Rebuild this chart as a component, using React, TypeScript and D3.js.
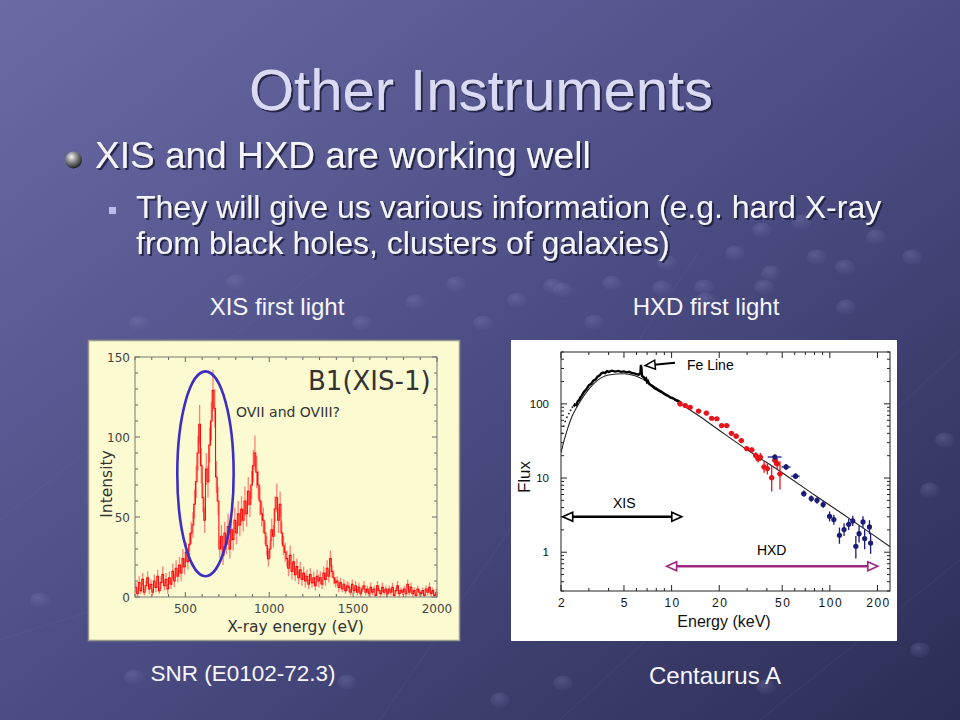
import { useEffect, useRef } from "react";
import * as d3 from "d3";

// ---- left panel: XIS first light (SNR E0102-72.3), counts per 10 eV bin from 200 eV
const xisCounts = [
  6, 2, 9, 4, 11, 3, 7, 12, 5, 8,
  3, 10, 6, 13, 4, 9, 14, 7, 11, 5,
  12, 8, 16, 10, 18, 13, 20, 15, 24, 19,
  28, 22, 33, 40, 45, 58, 72, 90, 108, 82,
  62, 48, 80, 72, 95, 110, 129, 118, 75, 60,
  30, 38, 26, 40, 33, 44, 30, 42, 36, 48,
  40, 52, 45, 55, 48, 60, 52, 66, 58, 70,
  82, 90, 78, 70, 60, 52, 48, 40, 32, 24,
  30, 42, 38, 55, 62, 48, 58, 40, 32, 28,
  24, 18, 26, 16, 22, 14, 19, 12, 17, 11,
  15, 10, 13, 8, 14, 9, 12, 7, 13, 10,
  12, 8, 15, 11, 18, 13, 24, 16, 12, 9,
  10, 6, 9, 5, 8, 4, 7, 6, 3, 8,
  4, 7, 3, 6, 2, 5, 7, 3, 5, 2,
  6, 3, 5, 1, 7, 4, 2, 6, 3, 5,
  2, 5, 3, 6, 1, 4, 7, 2, 4, 3,
  5, 2, 8, 3, 6, 2, 4, 1, 5, 3,
  2, 4, 1, 5, 3, 6, 2, 4, 1, 3,
];
// 1-sigma error per bin
const xisErrors = [
  3, 2, 4, 2, 4, 2, 3, 4, 3, 3,
  2, 4, 3, 4, 2, 4, 5, 3, 4, 3,
  4, 3, 5, 4, 5, 4, 5, 5, 6, 5,
  6, 5, 7, 7, 8, 9, 10, 11, 12, 11,
  9, 8, 10, 10, 11, 12, 13, 12, 10, 9,
  6, 7, 6, 7, 6, 8, 6, 7, 7, 8,
  7, 8, 7, 8, 7, 9, 8, 9, 8, 9,
  10, 11, 10, 9, 9, 8, 8, 7, 6, 5,
  6, 7, 7, 8, 9, 8, 8, 7, 6, 6,
  5, 5, 6, 5, 5, 4, 5, 4, 5, 4,
  4, 4, 4, 3, 4, 3, 4, 3, 4, 4,
  4, 3, 4, 4, 5, 4, 5, 4, 4, 3,
  3, 3, 3, 2, 3, 2, 3, 3, 2, 3,
  2, 3, 2, 3, 2, 2, 3, 2, 2, 2,
  3, 2, 2, 1, 3, 2, 2, 3, 2, 2,
  2, 2, 2, 3, 1, 2, 3, 2, 2, 2,
  2, 2, 3, 2, 3, 2, 2, 1, 2, 2,
  2, 2, 1, 2, 2, 3, 2, 2, 1, 2,
];
const xisEnergy = d3.range(200, 2000, 10);
const leftXTicks = [500, 1000, 1500, 2000];
const leftYTicks = [0, 50, 100, 150];
// OVII / OVIII region marked by the ellipse (eV, counts)
const oxyCenter = [620, 77];
const oxyRadius = [168, 64];

// ---- right panel: HXD first light (Centaurus A)
const xisSpecE = [2.4, 2.45, 2.5, 2.55, 2.6, 2.65, 2.7, 2.8, 2.9, 3.0, 3.1, 3.2, 3.3, 3.4, 3.5, 3.6, 3.7, 3.8, 3.9, 4.0,
  4.2, 4.4, 4.6, 4.8, 5.0, 5.2, 5.4, 5.6, 5.8, 6.0, 6.2, 6.3, 6.35, 6.4, 6.45, 6.5, 6.6, 6.7, 6.8, 6.9, 7.0,
  7.1, 7.2, 7.4, 7.6, 7.8, 8.0, 8.3, 8.6, 8.9, 9.2, 9.5, 9.8, 10.1, 10.4, 10.7, 11.0, 11.3, 11.6];
const xisSpecF = [92, 98, 96, 108, 112, 122, 128, 146, 158, 178, 186, 205, 212, 232, 240, 258, 264, 260, 276, 270,
  280, 272, 278, 270, 274, 266, 270, 260, 258, 252, 248, 254, 258, 335, 300, 238, 232, 226, 214, 220, 196,
  202, 186, 178, 172, 162, 158, 150, 145, 138, 132, 128, 122, 120, 116, 112, 110, 106, 102];
const xisLowE = [2.03, 2.08, 2.13, 2.18, 2.24, 2.3, 2.36];
const xisLowF = [40, 50, 58, 66, 74, 82, 90];

const modelE = [2, 2.1, 2.2, 2.35, 2.5, 2.8, 3.2, 4, 5, 6, 8, 11, 15, 20, 30, 50, 80, 120, 180, 240];
const modelF = [22, 33, 46, 68, 88, 130, 185, 245, 255, 235, 165, 105, 68, 44, 24, 11.8, 5.9, 3.3, 1.82, 1.19];

const pinE = [11.3, 12.2, 13.1, 14.8, 16.6, 17.9, 19.3, 20.7, 22.3, 23.9, 25.6, 27.6, 29.8, 32.1, 34.0, 35.2, 36.4, 38.4, 40.3, 42.9, 44.9, 46.5, 48.4];
const pinF = [100, 95, 90, 80, 75, 64, 63, 51, 51, 40, 36.7, 32, 25, 24, 20.2, 18.2, 19.2, 14.1, 13.4, 10.1, 17.3, 15.6, 11.4];
const pinLo = [92, 88, 84, 75, 70, 60, 59, 48, 48, 37.5, 34, 29.5, 23, 22, 18.3, 16.2, 17, 11.8, 11.2, 6.6, 14.8, 13, 7];
const pinHi = [108, 102, 96, 85, 80, 68, 67, 54, 54, 42.5, 39.5, 34.5, 27, 26, 22.3, 20.3, 21.8, 16.8, 15.8, 14.5, 20.2, 18.5, 16.8];

const gsoE = [44.9, 52.9, 60.7, 68.5, 76.3, 83.0, 90.7, 99.6, 106, 115, 123, 131.6, 139.6, 146, 153, 162, 166, 178, 181];
const gsoF = [19.2, 14.1, 10.6, 6.16, 5.28, 5.0, 4.4, 3.05, 2.75, 1.69, 2.02, 2.38, 2.64, 1.2, 1.78, 2.56, 1.53, 2.19, 1.33];
const gsoLo = [17.5, 12.9, 9.7, 5.6, 4.8, 4.5, 3.95, 2.6, 2.35, 1.3, 1.65, 2.0, 2.25, 0.82, 1.35, 2.1, 1.1, 1.75, 0.95];
const gsoHi = [21, 15.4, 11.6, 6.8, 5.8, 5.5, 4.9, 3.55, 3.2, 2.15, 2.45, 2.8, 3.1, 1.65, 2.3, 3.05, 2.05, 2.7, 1.8];
const gsoElo = [40.5, 49.5, 57, 66, 74, 80.5, 88, 97, 103.5, 112, 120, 128.5, 136, 143, 150, 158.5, 163, 174, 178];
const gsoEhi = [49.5, 56.5, 64.5, 71, 78.5, 85.5, 93.5, 102, 108.5, 118, 126, 134.5, 143, 149, 156, 165.5, 169, 182, 184];

const rightXLabels = [2, 5, 10, 20, 50, 100, 200];
const rightYLabels = [1, 10, 100];
// annotation arrows, in (keV, flux)
const xisBand = [2.05, 11.6];
const xisBandFlux = 3.0;
const hxdBand = [9.3, 201];
const hxdBandFlux = 0.648;
const feArrowFrom = [10.5, 357];
const feArrowTo = [6.8, 329];

const SANS = "'Liberation Sans', Arial, sans-serif";
const VERD = "'DejaVu Sans', Verdana, sans-serif";

export default function App() {
  const svgRef = useRef<SVGSVGElement | null>(null);

  useEffect(() => {
    if (!svgRef.current) return;
    const svg = d3.select(svgRef.current);
    svg.selectAll("*").remove();

    const defs = svg.append("defs");
    const bg = defs.append("linearGradient").attr("id", "bg")
      .attr("x1", 0).attr("y1", 0).attr("x2", 1).attr("y2", 1);
    bg.append("stop").attr("offset", "0%").attr("stop-color", "#6a6ba5");
    bg.append("stop").attr("offset", "50%").attr("stop-color", "#4c4d84");
    bg.append("stop").attr("offset", "100%").attr("stop-color", "#2c2d55");
    const ball = defs.append("radialGradient").attr("id", "ball")
      .attr("cx", "38%").attr("cy", "32%").attr("r", "70%");
    ball.append("stop").attr("offset", "0%").attr("stop-color", "#f4f4f4");
    ball.append("stop").attr("offset", "45%").attr("stop-color", "#8a8a8a");
    ball.append("stop").attr("offset", "100%").attr("stop-color", "#1e1e1e");
    const bub = defs.append("radialGradient").attr("id", "bub")
      .attr("cx", "40%").attr("cy", "35%").attr("r", "65%");
    bub.append("stop").attr("offset", "0%").attr("stop-color", "#8c8dc2").attr("stop-opacity", 0.3);
    bub.append("stop").attr("offset", "100%").attr("stop-color", "#6c6da4").attr("stop-opacity", 0.08);
    const shadow = defs.append("filter").attr("id", "shadow")
      .attr("x", "-5%").attr("y", "-20%").attr("width", "115%").attr("height", "150%");
    shadow.append("feDropShadow").attr("dx", 2).attr("dy", 2).attr("stdDeviation", 0.6)
      .attr("flood-color", "#1c1c34").attr("flood-opacity", 0.8);

    svg.append("rect").attr("width", 960).attr("height", 720).attr("fill", "url(#bg)");

    // faint background decoration
    const deco = svg.append("g");
    const decoLines = [[0, 520, 330, 260], [380, 720, 700, 250], [560, 720, 960, 350], [760, 720, 960, 560], [0, 640, 250, 560]];
    decoLines.forEach(([a, b, c, d]) => deco.append("line").attr("x1", a).attr("y1", b).attr("x2", c).attr("y2", d)
      .attr("stroke", "#8384bb").attr("stroke-opacity", 0.12).attr("stroke-width", 1));
    const bubbles = [[236, 282], [415, 302], [456, 284], [517, 300], [553, 286], [594, 322], [662, 288], [706, 300], [764, 287],
      [846, 307], [139, 323], [362, 323], [483, 323], [134, 677], [347, 682], [563, 683], [766, 687], [762, 230], [802, 222],
      [876, 237], [912, 257], [817, 257], [735, 253], [667, 263], [612, 283], [704, 287], [771, 273], [845, 267], [563, 290],
      [40, 600], [930, 490], [945, 440], [500, 700], [920, 650]];
    bubbles.forEach(([x, y]) => deco.append("ellipse").attr("cx", x).attr("cy", y).attr("rx", 10).attr("ry", 7.5)
      .attr("fill", "url(#bub)"));

    // slide text
    const slideText = (x: number, y: number, s: string, size: number, fill: string, anchor = "start") =>
      svg.append("text").attr("x", x).attr("y", y).attr("text-anchor", anchor).attr("filter", "url(#shadow)")
        .attr("font-family", SANS).attr("font-size", size).attr("fill", fill).text(s);
    slideText(481, 110, "Other Instruments", 58, "#dadaf4", "middle");
    svg.append("circle").attr("cx", 73.5).attr("cy", 160).attr("r", 8.5).attr("fill", "url(#ball)");
    slideText(95, 168, "XIS and HXD are working well", 37, "#f4f4fc");
    svg.append("rect").attr("x", 109).attr("y", 207).attr("width", 7).attr("height", 7).attr("fill", "#bcbceb");
    slideText(136, 218, "They will give us various information (e.g. hard X-ray", 32, "#f4f4fc");
    slideText(136, 254, "from black holes, clusters of galaxies)", 32, "#f4f4fc");

    const caption = (x: number, y: number, s: string, size: number) =>
      svg.append("text").attr("x", x).attr("y", y).attr("text-anchor", "middle")
        .attr("font-family", SANS).attr("font-size", size).attr("fill", "#f6f6ff").text(s);
    caption(277, 315, "XIS first light", 24);
    caption(706, 315, "HXD first light", 24);
    caption(243, 681, "SNR (E0102-72.3)", 22.5);
    caption(715, 684, "Centaurus A", 24);

    // ================= left panel =================
    svg.append("rect").attr("x", 88.5).attr("y", 340.5).attr("width", 371).attr("height", 300)
      .attr("fill", "#fbfad0").attr("stroke", "#9a9a8c").attr("stroke-width", 1.5);
    const xL = d3.scaleLinear().domain([200, 2000]).range([135, 437]);
    const yL = d3.scaleLinear().domain([0, 150]).range([597, 357]);
    const gl = svg.append("g");
    defs.append("clipPath").attr("id", "clipL").append("rect")
      .attr("x", 135).attr("y", 357).attr("width", 302).attr("height", 240);

    const tickCol = "#666";
    d3.range(200, 2001, 100).forEach((v) => {
      const len = leftXTicks.includes(v) ? 5 : 3;
      gl.append("line").attr("x1", xL(v)).attr("x2", xL(v)).attr("y1", yL(0)).attr("y2", yL(0) - len).attr("stroke", tickCol);
      gl.append("line").attr("x1", xL(v)).attr("x2", xL(v)).attr("y1", yL(150)).attr("y2", yL(150) + len).attr("stroke", tickCol);
    });
    d3.range(0, 151, 10).forEach((v) => {
      const len = leftYTicks.includes(v) ? 5 : 3;
      gl.append("line").attr("y1", yL(v)).attr("y2", yL(v)).attr("x1", xL(200)).attr("x2", xL(200) + len).attr("stroke", tickCol);
      gl.append("line").attr("y1", yL(v)).attr("y2", yL(v)).attr("x1", xL(2000)).attr("x2", xL(2000) - len).attr("stroke", tickCol);
    });

    const spec = gl.append("g").attr("clip-path", "url(#clipL)");
    const halfBin = 5;
    spec.append("g").selectAll("line").data(xisCounts).join("line")
      .attr("x1", (_, i) => xL(xisEnergy[i] + halfBin)).attr("x2", (_, i) => xL(xisEnergy[i] + halfBin))
      .attr("y1", (d, i) => yL(Math.max(0, d - xisErrors[i]))).attr("y2", (d, i) => yL(d + xisErrors[i]))
      .attr("stroke", "#ff5a5a").attr("stroke-opacity", 0.75).attr("stroke-width", 1.3);
    const step = d3.line<number>().x((_, i) => xL(xisEnergy[i])).y((d) => yL(d)).curve(d3.curveStepAfter);
    spec.append("path").datum(xisCounts).attr("d", step).attr("fill", "none")
      .attr("stroke", "#ff0a0a").attr("stroke-width", 1.1);

    gl.append("rect").attr("x", xL(200)).attr("y", yL(150)).attr("width", xL(2000) - xL(200)).attr("height", yL(0) - yL(150))
      .attr("fill", "none").attr("stroke", "#777").attr("stroke-width", 1);

    leftXTicks.forEach((v) => gl.append("text").attr("x", xL(v)).attr("y", 613).attr("text-anchor", "middle")
      .attr("font-family", VERD).attr("font-size", 12).attr("fill", "#444").text(v));
    leftYTicks.forEach((v) => gl.append("text").attr("x", 130).attr("y", yL(v) + 4.5).attr("text-anchor", "end")
      .attr("font-family", VERD).attr("font-size", 12).attr("fill", "#444").text(v));
    gl.append("text").attr("x", 295.5).attr("y", 632).attr("text-anchor", "middle")
      .attr("font-family", VERD).attr("font-size", 15.5).attr("fill", "#333").text("X-ray energy (eV)");
    gl.append("text").attr("transform", "translate(112,484) rotate(-90)").attr("text-anchor", "middle")
      .attr("font-family", VERD).attr("font-size", 15.5).attr("fill", "#333").text("Intensity");
    gl.append("text").attr("x", 308).attr("y", 390).attr("font-family", VERD).attr("font-size", 26)
      .attr("fill", "#333").text("B1(XIS-1)");
    gl.append("text").attr("x", 236).attr("y", 417).attr("font-family", VERD).attr("font-size", 14)
      .attr("fill", "#333").text("OVII and OVIII?");

    gl.append("ellipse")
      .attr("cx", xL(oxyCenter[0])).attr("cy", yL(oxyCenter[1]))
      .attr("rx", xL(oxyCenter[0] + oxyRadius[0]) - xL(oxyCenter[0]))
      .attr("ry", yL(0) - yL(oxyRadius[1]))
      .attr("fill", "none").attr("stroke", "#3d2fc2").attr("stroke-width", 2.6);

    // ================= right panel =================
    svg.append("rect").attr("x", 511).attr("y", 340).attr("width", 386).attr("height", 301).attr("fill", "#ffffff");
    const xR = d3.scaleLog().domain([2, 240]).range([561, 890]);
    const yR = d3.scaleLog().domain([0.3, 500]).range([591, 352]);
    const gr = svg.append("g");
    defs.append("clipPath").attr("id", "clipR").append("rect")
      .attr("x", 561).attr("y", 352).attr("width", 329).attr("height", 239);

    xR.ticks().forEach((v) => {
      const len = rightXLabels.includes(v) ? 6 : 3;
      gr.append("line").attr("x1", xR(v)).attr("x2", xR(v)).attr("y1", 591).attr("y2", 591 - len).attr("stroke", "#222");
      gr.append("line").attr("x1", xR(v)).attr("x2", xR(v)).attr("y1", 352).attr("y2", 352 + len).attr("stroke", "#222");
    });
    yR.ticks().forEach((v) => {
      const len = rightYLabels.includes(v) ? 6 : 3;
      gr.append("line").attr("y1", yR(v)).attr("y2", yR(v)).attr("x1", 561).attr("x2", 561 + len).attr("stroke", "#222");
      gr.append("line").attr("y1", yR(v)).attr("y2", yR(v)).attr("x1", 890).attr("x2", 890 - len).attr("stroke", "#222");
    });
    gr.append("rect").attr("x", 561).attr("y", 352).attr("width", 329).attr("height", 239)
      .attr("fill", "none").attr("stroke", "#222").attr("stroke-width", 1);

    rightXLabels.forEach((v) => gr.append("text").attr("x", xR(v) + 1).attr("y", 607).attr("text-anchor", "middle")
      .attr("font-family", SANS).attr("font-size", 12).attr("letter-spacing", 1.5).attr("fill", "#111").text(v));
    rightYLabels.forEach((v) => gr.append("text").attr("x", 549).attr("y", yR(v) + 4).attr("text-anchor", "end")
      .attr("font-family", SANS).attr("font-size", 11.5).attr("fill", "#111").text(v));
    gr.append("text").attr("x", 724).attr("y", 627).attr("text-anchor", "middle")
      .attr("font-family", SANS).attr("font-size", 16).attr("fill", "#111").text("Energy (keV)");
    gr.append("text").attr("transform", "translate(530,477) rotate(-90)").attr("text-anchor", "middle")
      .attr("font-family", SANS).attr("font-size", 17).attr("fill", "#111").text("Flux");

    const plot = gr.append("g").attr("clip-path", "url(#clipR)");
    const modelLine = d3.line<number>().x((_, i) => xR(modelE[i])).y((d) => yR(d)).curve(d3.curveMonotoneX);
    plot.append("path").datum(modelF).attr("d", modelLine).attr("fill", "none").attr("stroke", "#222").attr("stroke-width", 1.1);

    xisLowF.forEach((f, i) => plot.append("circle").attr("cx", xR(xisLowE[i])).attr("cy", yR(f)).attr("r", 0.9).attr("fill", "#222"));
    const xisLine = d3.line<number>().x((_, i) => xR(xisSpecE[i])).y((d) => yR(d));
    plot.append("path").datum(xisSpecF).attr("d", xisLine).attr("fill", "none").attr("stroke", "#000").attr("stroke-width", 2.4);

    const points = (E: number[], F: number[], lo: number[], hi: number[], col: string, elo?: number[], ehi?: number[]) => {
      F.forEach((f, i) => {
        plot.append("line").attr("x1", xR(E[i])).attr("x2", xR(E[i])).attr("y1", yR(lo[i])).attr("y2", yR(hi[i]))
          .attr("stroke", col).attr("stroke-width", 1.3);
        const el = elo ? elo[i] : E[i] * 0.96;
        const eh = ehi ? ehi[i] : E[i] * 1.04;
        plot.append("line").attr("x1", xR(el)).attr("x2", xR(eh)).attr("y1", yR(f)).attr("y2", yR(f))
          .attr("stroke", col).attr("stroke-width", 1.3);
        plot.append("circle").attr("cx", xR(E[i])).attr("cy", yR(f)).attr("r", 2.6).attr("fill", col);
      });
    };
    points(pinE, pinF, pinLo, pinHi, "#e8141c");
    points(gsoE, gsoF, gsoLo, gsoHi, "#1b1b78", gsoElo, gsoEhi);

    // double arrows with open heads
    const openHead = (tipX: number, tipY: number, dir: number, col: string) => {
      const L = 10, h = 4.5;
      gr.append("path")
        .attr("d", `M${tipX},${tipY} L${tipX - dir * L},${tipY - h} L${tipX - dir * L},${tipY + h} Z`)
        .attr("fill", "#fff").attr("stroke", col).attr("stroke-width", 1.6).attr("stroke-linejoin", "miter");
    };
    const band = (range: number[], flux: number, col: string) => {
      const y = yR(flux), x0 = xR(range[0]), x1 = xR(range[1]);
      gr.append("line").attr("x1", x0 + 9).attr("x2", x1 - 9).attr("y1", y).attr("y2", y)
        .attr("stroke", col).attr("stroke-width", 2.6);
      openHead(x0, y, -1, col);
      openHead(x1, y, 1, col);
    };
    band(xisBand, xisBandFlux, "#000");
    band(hxdBand, hxdBandFlux, "#a02680");
    gr.append("text").attr("x", xR(Math.sqrt(xisBand[0] * xisBand[1])) + 2).attr("y", 508).attr("text-anchor", "middle")
      .attr("font-family", SANS).attr("font-size", 14).attr("fill", "#000").text("XIS");
    gr.append("text").attr("x", 771.7).attr("y", 555).attr("text-anchor", "middle")
      .attr("font-family", SANS).attr("font-size", 14).attr("fill", "#000").text("HXD");

    // Fe line pointer
    const fx0 = xR(feArrowFrom[0]), fy0 = yR(feArrowFrom[1]);
    const fx1 = xR(feArrowTo[0]), fy1 = yR(feArrowTo[1]);
    const ang = Math.atan2(fy1 - fy0, fx1 - fx0);
    const ux = Math.cos(ang), uy = Math.sin(ang);
    gr.append("line").attr("x1", fx0).attr("y1", fy0).attr("x2", fx1 - ux * 9).attr("y2", fy1 - uy * 9)
      .attr("stroke", "#000").attr("stroke-width", 2);
    gr.append("path")
      .attr("d", `M${fx1},${fy1} L${fx1 - ux * 10 + uy * 4.5},${fy1 - uy * 10 - ux * 4.5} L${fx1 - ux * 10 - uy * 4.5},${fy1 - uy * 10 + ux * 4.5} Z`)
      .attr("fill", "#fff").attr("stroke", "#000").attr("stroke-width", 1.5);
    gr.append("text").attr("x", 687).attr("y", 370).attr("font-family", SANS).attr("font-size", 14)
      .attr("fill", "#000").text("Fe Line");
  }, []);

  return (
    <svg ref={svgRef} width={960} height={720}
      style={{ position: "absolute", left: 0, top: 0, display: "block" }} />
  );
}
